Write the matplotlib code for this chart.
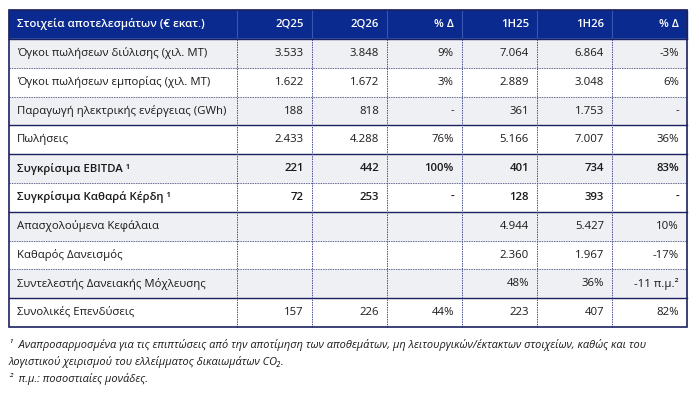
import matplotlib.pyplot as plt
from matplotlib.patches import Rectangle

plt.rcParams['font.family'] = ['Open Sans', 'Noto Sans', 'DejaVu Sans']

header = ['Στοιχεία αποτελεσμάτων (€ εκατ.)', '2Q25', '2Q26', '% Δ', '1H25', '1H26', '% Δ']
labels = [
    'Όγκοι πωλήσεων διύλισης (χιλ. MT)',
    'Όγκοι πωλήσεων εμπορίας (χιλ. MT)',
    'Παραγωγή ηλεκτρικής ενέργειας (GWh)',
    'Πωλήσεις',
    'Συγκρίσιμα EBITDA ¹',
    'Συγκρίσιμα Καθαρά Κέρδη ¹',
    'Απασχολούμενα Κεφάλαια',
    'Καθαρός Δανεισμός',
    'Συντελεστής Δανειακής Μόχλευσης',
    'Συνολικές Επενδύσεις',
]
q2_25 = ['3.533', '1.622', '188', '2.433', '221', '72', '', '', '', '157']
q2_26 = ['3.848', '1.672', '818', '4.288', '442', '253', '', '', '', '226']
q_chg = ['9%', '3%', '-', '76%', '100%', '-', '', '', '', '44%']
h1_25 = ['7.064', '2.889', '361', '5.166', '401', '128', '4.944', '2.360', '48%', '223']
h1_26 = ['6.864', '3.048', '1.753', '7.007', '734', '393', '5.427', '1.967', '36%', '407']
h_chg = ['-3%', '6%', '-', '36%', '83%', '-', '10%', '-17%', '-11 π.μ.²', '82%']
bold_rows = [4, 5]
solid_after = [2, 3, 5, 8]
notes = [
    '¹  Αναπροσαρμοσμένα για τις επιπτώσεις από την αποτίμηση των αποθεμάτων, μη λειτουργικών/έκτακτων στοιχείων, καθώς και του',
    'λογιστικού χειρισμού του ελλείμματος δικαιωμάτων CO₂.',
    '²  π.μ.: ποσοστιαίες μονάδες.',
]

navy = '#0b2a8f'
line_c = '#1c2160'
grey = '#eff0f4'

fig = plt.figure(figsize=(6.97, 4.05), dpi=100)
ax = fig.add_axes([0, 0, 1, 1])
ax.set_xlim(0, 697)
ax.set_ylim(405, 0)
ax.axis('off')

cols = [9, 237, 312, 387, 462, 537, 612, 687]
top, head_h, row_h = 10, 29, 28.8
fs = 8.2
body_top = top + head_h
n = len(labels)
bottom = body_top + n * row_h

# header
ax.add_patch(Rectangle((cols[0], top), cols[-1] - cols[0], head_h, color=navy, zorder=1))
ax.text(cols[0] + 8, top + head_h / 2, header[0], color='white', fontsize=fs,
        fontweight='semibold', va='center', ha='left', zorder=3)
for j in range(1, 7):
    ax.text(cols[j + 1] - 8, top + head_h / 2, header[j], color='white', fontsize=fs,
            fontweight='semibold', va='center', ha='right', zorder=3)
for x in cols[1:-1]:
    ax.plot([x, x], [top, body_top], color='#3a55b0', lw=0.8, zorder=2)

columns = [q2_25, q2_26, q_chg, h1_25, h1_26, h_chg]
for i in range(n):
    y0 = body_top + i * row_h
    yc = y0 + row_h / 2
    if i % 2 == 0:
        ax.add_patch(Rectangle((cols[0], y0), cols[-1] - cols[0], row_h, color=grey, zorder=1))
    w = 'semibold' if i in bold_rows else 'normal'
    ax.text(cols[0] + 8, yc, labels[i], fontsize=fs, fontweight=w, color='#1a1a1a',
            va='center', ha='left', zorder=3)
    for j, col in enumerate(columns):
        ax.text(cols[j + 2] - 8, yc, col[i], fontsize=fs, fontweight=w, color='#1a1a1a',
                va='center', ha='right', zorder=3)
    yb = y0 + row_h
    if i < n - 1:
        if i in solid_after:
            ax.plot([cols[0], cols[-1]], [yb, yb], color=line_c, lw=1.0, zorder=2)
        else:
            ax.plot([cols[0], cols[-1]], [yb, yb], color='#6a6e98', lw=0.7,
                    ls=(0, (1.5, 1)), zorder=2)

for x in cols[1:-1]:
    ax.plot([x, x], [body_top, bottom], color='#4a4f90', lw=0.7, ls=(0, (1.5, 1)), zorder=2)

ax.add_patch(Rectangle((cols[0], top), cols[-1] - cols[0], bottom - top, fill=False,
                       ec=line_c, lw=1.2, zorder=4))
ax.plot([cols[0], cols[-1]], [body_top, body_top], color=line_c, lw=1.0, zorder=2)

for k, note in enumerate(notes):
    ax.text(cols[0], 345 + k * 17, note, fontsize=7.9, style='italic',
            color='#1a1a1a', va='center', ha='left')

fig.savefig('out.png', dpi=100)
